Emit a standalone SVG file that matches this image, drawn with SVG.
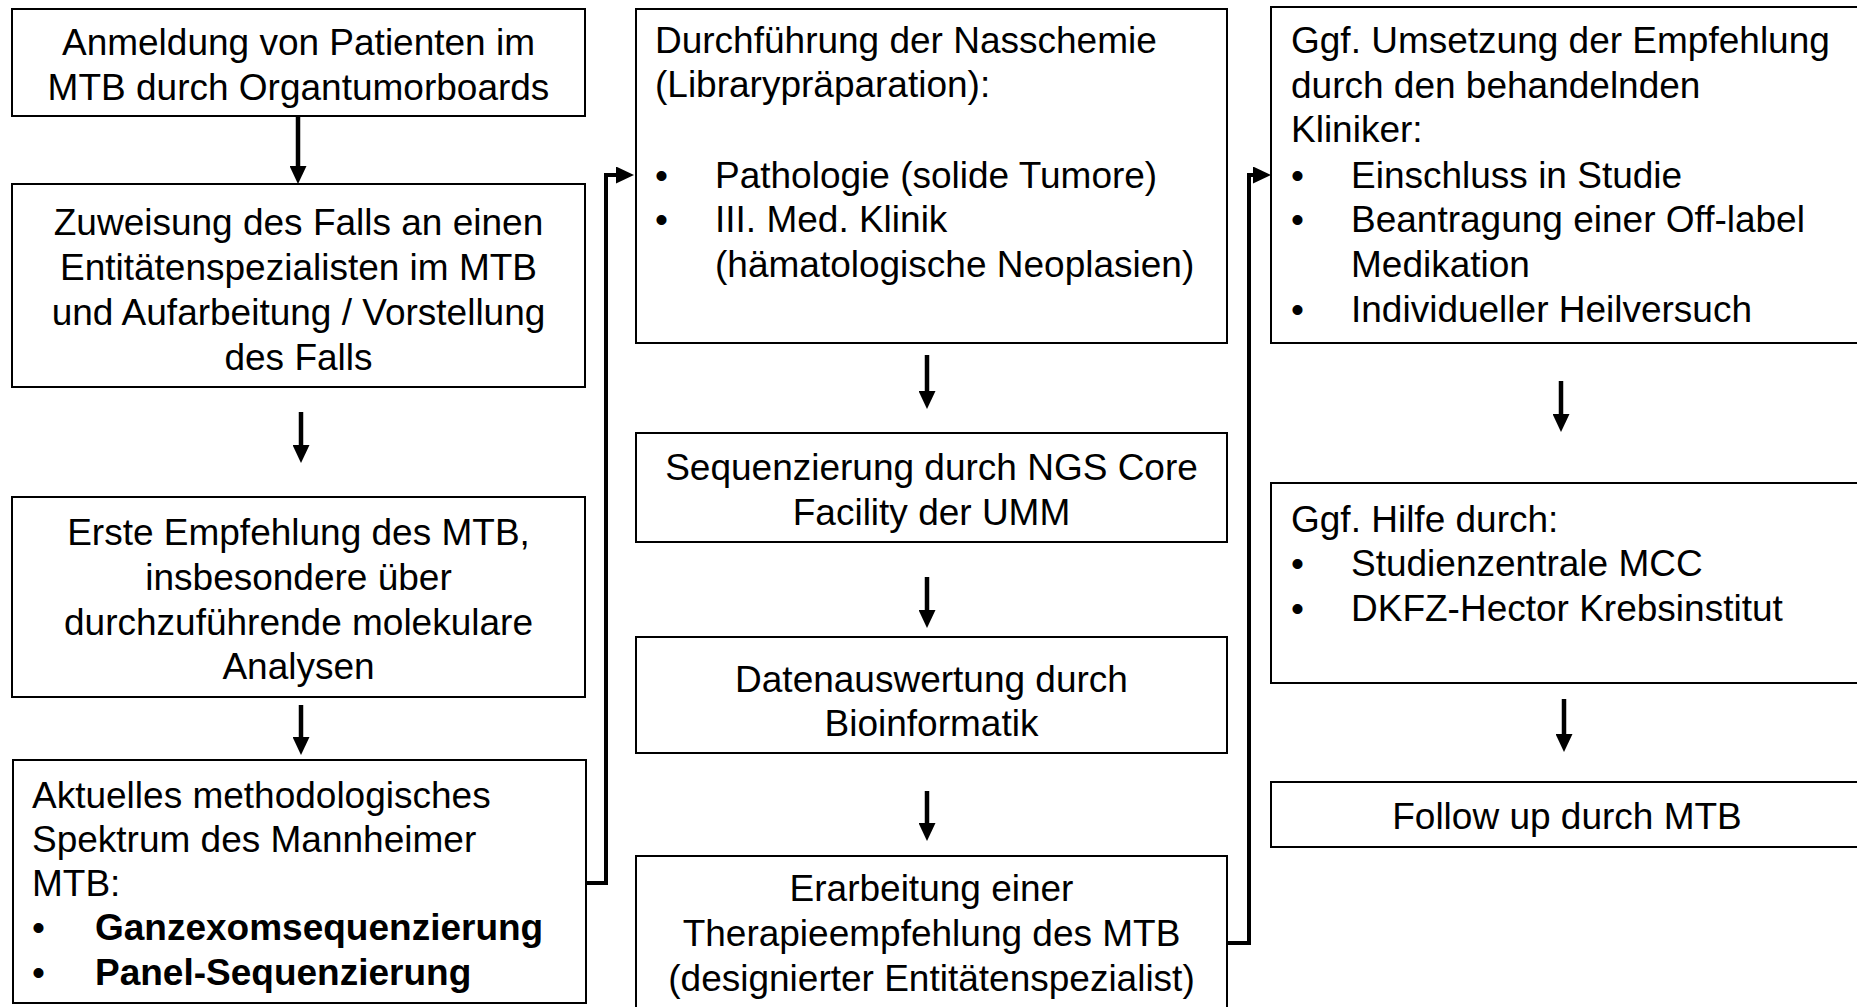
<svg xmlns="http://www.w3.org/2000/svg" width="1857" height="1007" viewBox="0 0 1857 1007">
<style>
  .box { fill: #ffffff; stroke: #000000; stroke-width: 2; }
  .t { font-family: "Liberation Sans", Arial, sans-serif; font-size: 37px; fill: #000000; }
  .c { text-anchor: middle; }
  .b { font-weight: bold; }
  .arr { stroke: #000000; stroke-width: 4.5; fill: none; marker-end: url(#ah); }
  .con { stroke: #000000; stroke-width: 4; fill: none; marker-end: url(#ah); }
</style>
<defs>
  <marker id="ah" viewBox="0 0 18 17" markerWidth="18" markerHeight="17" markerUnits="userSpaceOnUse" refX="1" refY="8.5" orient="auto">
    <path d="M0,0 L18,8.5 L0,17 Z" fill="#000000"/>
  </marker>
</defs>
<rect width="1857" height="1007" fill="#ffffff"/>

<g id="connectors">
  <line class="arr" x1="298" y1="116" x2="298" y2="167"/>
  <line class="arr" x1="301" y1="412" x2="301" y2="446"/>
  <line class="arr" x1="301" y1="705" x2="301" y2="738"/>
  <line class="arr" x1="927" y1="355" x2="927" y2="392"/>
  <line class="arr" x1="927" y1="577" x2="927" y2="611"/>
  <line class="arr" x1="927" y1="791" x2="927" y2="824"/>
  <line class="arr" x1="1561" y1="381" x2="1561" y2="415"/>
  <line class="arr" x1="1564" y1="699" x2="1564" y2="735"/>
  <path class="con" d="M586,883 H606 V175 H617"/>
  <path class="con" d="M1227,943 H1249 V175 H1254"/>
</g>

<g id="node-anmeldung">
  <rect class="box" x="12" y="9" width="573" height="107"/>
  <text class="t c" x="298.5" y="55">Anmeldung von Patienten im</text>
  <text class="t c" x="298.5" y="100">MTB durch Organtumorboards</text>
</g>

<g id="node-zuweisung">
  <rect class="box" x="12" y="184" width="573" height="203"/>
  <text class="t c" x="298.5" y="235">Zuweisung des Falls an einen</text>
  <text class="t c" x="298.5" y="280">Entitätenspezialisten im MTB</text>
  <text class="t c" x="298.5" y="325">und Aufarbeitung / Vorstellung</text>
  <text class="t c" x="298.5" y="370">des Falls</text>
</g>

<g id="node-erste-empfehlung">
  <rect class="box" x="12" y="497" width="573" height="200"/>
  <text class="t c" x="298.5" y="545">Erste Empfehlung des MTB,</text>
  <text class="t c" x="298.5" y="590">insbesondere über</text>
  <text class="t c" x="298.5" y="635">durchzuführende molekulare</text>
  <text class="t c" x="298.5" y="679">Analysen</text>
</g>

<g id="node-spektrum">
  <rect class="box" x="13" y="760" width="573" height="243"/>
  <text class="t" x="32" y="808">Aktuelles methodologisches</text>
  <text class="t" x="32" y="852">Spektrum des Mannheimer</text>
  <text class="t" x="32" y="896">MTB:</text>
  <text class="t" x="32" y="940">•</text>
  <text class="t b" x="95" y="940">Ganzexomsequenzierung</text>
  <text class="t" x="32" y="985">•</text>
  <text class="t b" x="95" y="985">Panel-Sequenzierung</text>
</g>

<g id="node-nasschemie">
  <rect class="box" x="636" y="9" width="591" height="334"/>
  <text class="t" x="655" y="53">Durchführung der Nasschemie</text>
  <text class="t" x="655" y="97">(Librarypräparation):</text>
  <text class="t" x="655" y="188">•</text>
  <text class="t" x="715" y="188">Pathologie (solide Tumore)</text>
  <text class="t" x="655" y="232">•</text>
  <text class="t" x="715" y="232">III. Med. Klinik</text>
  <text class="t" x="715" y="277">(hämatologische Neoplasien)</text>
</g>

<g id="node-sequenzierung">
  <rect class="box" x="636" y="433" width="591" height="109"/>
  <text class="t c" x="931.5" y="480">Sequenzierung durch NGS Core</text>
  <text class="t c" x="931.5" y="525">Facility der UMM</text>
</g>

<g id="node-datenauswertung">
  <rect class="box" x="636" y="637" width="591" height="116"/>
  <text class="t c" x="931.5" y="692">Datenauswertung durch</text>
  <text class="t c" x="931.5" y="736">Bioinformatik</text>
</g>

<g id="node-therapieempfehlung">
  <rect class="box" x="636" y="856" width="591" height="160"/>
  <text class="t c" x="931.5" y="901">Erarbeitung einer</text>
  <text class="t c" x="931.5" y="946">Therapieempfehlung des MTB</text>
  <text class="t c" x="931.5" y="991">(designierter Entitätenspezialist)</text>
</g>

<g id="node-umsetzung">
  <rect class="box" x="1271" y="7" width="600" height="336"/>
  <text class="t" x="1291" y="53">Ggf. Umsetzung der Empfehlung</text>
  <text class="t" x="1291" y="98">durch den behandelnden</text>
  <text class="t" x="1291" y="142">Kliniker:</text>
  <text class="t" x="1291" y="188">•</text>
  <text class="t" x="1351" y="188">Einschluss in Studie</text>
  <text class="t" x="1291" y="232">•</text>
  <text class="t" x="1351" y="232">Beantragung einer Off-label</text>
  <text class="t" x="1351" y="277">Medikation</text>
  <text class="t" x="1291" y="322">•</text>
  <text class="t" x="1351" y="322">Individueller Heilversuch</text>
</g>

<g id="node-hilfe">
  <rect class="box" x="1271" y="483" width="600" height="200"/>
  <text class="t" x="1291" y="532">Ggf. Hilfe durch:</text>
  <text class="t" x="1291" y="576">•</text>
  <text class="t" x="1351" y="576">Studienzentrale MCC</text>
  <text class="t" x="1291" y="621">•</text>
  <text class="t" x="1351" y="621">DKFZ-Hector Krebsinstitut</text>
</g>

<g id="node-followup">
  <rect class="box" x="1271" y="782" width="600" height="65"/>
  <text class="t c" x="1567" y="829">Follow up durch MTB</text>
</g>
</svg>
